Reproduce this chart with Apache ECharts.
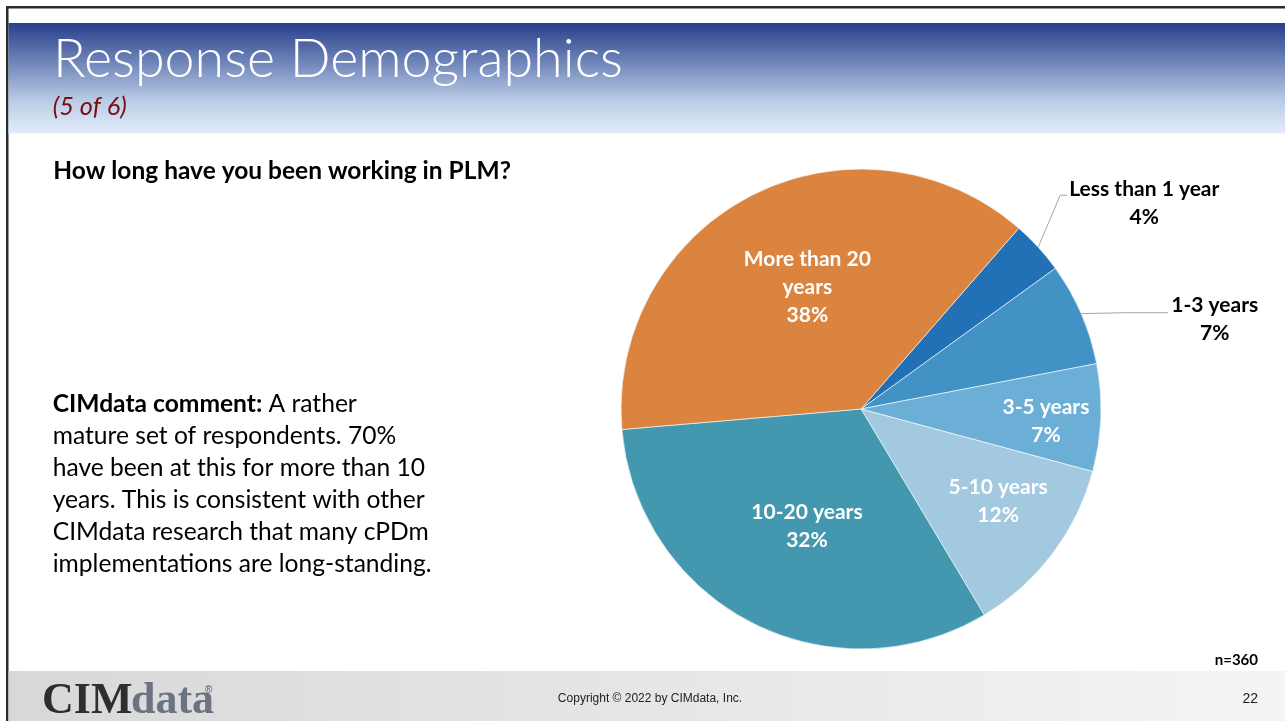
<!DOCTYPE html>
<html>
<head>
<meta charset="utf-8">
<script src="https://cdn.jsdelivr.net/npm/echarts@6/dist/echarts.min.js"></script>
<style>
html,body{margin:0;padding:0;background:#fff;}
#chart{width:1285px;height:721px;}
</style>
</head>
<body>
<div id="chart"></div>
<script>
// ---- data (n = 360) ----
const categories = ['Less than 1 year', '1-3 years', '3-5 years', '5-10 years', '10-20 years', 'More than 20 years'];
const counts = [13, 25, 26, 44, 116, 136];
const sliceColors = ['#2271B6', '#4392C6', '#6BAED6', '#A3C9E1', '#4398B0', '#DA843F'];
const titleText = 'Response Demographics';
const subtitleText = '(5 of 6)';
const questionText = 'How long have you been working in PLM?';
const commentLead = 'CIMdata comment:';
const commentLines = [
  'A rather',
  'mature set of respondents. 70%',
  'have been at this for more than 10',
  'years. This is consistent with other',
  'CIMdata research that many cPDm',
  'implementations are long-standing.'
];
const sampleText = 'n=360';
const copyrightText = 'Copyright \u00A9 2022 by CIMdata, Inc.';
const pageNumber = '22';

// ---- style ----
const FONT = 'Lato, "Open Sans", sans-serif';
const outsideIdx = [0, 1];
// label-line bends and text anchor, relative to the slice edge point given by the library
const outsideLayout = {
  0: { line: [[22, -52], [29, -52]], text: [31, -44] },
  1: { line: [[44, -1], [87, -1]], text: [90, 6] }
};
const insideShift = { 2: [62, 8], 3: [39, 18], 4: [2, 8], 5: [2, -12] };
const nameBreaks = { 'More than 20 years': 'More than 20\nyears' };
const LABEL_SIZE = 21;

const chart = echarts.init(document.getElementById('chart'), null, { renderer: 'canvas' });

const seriesData = categories.map((name, i) => {
  const item = { name, value: counts[i], itemStyle: { color: sliceColors[i] } };
  if (outsideIdx.includes(i)) {
    item.label = {
      position: 'outside',
      color: '#000',
      formatter: '{c|{b}}\n{c|{d}%}',
      rich: { c: { align: 'center', fontFamily: FONT, fontWeight: 'bold', fontSize: LABEL_SIZE, color: '#000', lineHeight: 28 } }
    };
    item.labelLine = { show: true, length: 20, length2: 10,
      lineStyle: { color: '#A6A6A6', width: 1 } };
  }
  return item;
});

// text placed by baseline (Lato: middle of em box sits 0.387em above the baseline)
function textAt(x, baseline, size, text, font, fill, extra) {
  return Object.assign({ type: 'text', x: x, y: baseline - 0.387 * size, z: 2,
    style: Object.assign({ text: text, fill: fill, font: font, verticalAlign: 'middle' }, extra && extra.style) },
    extra && extra.el);
}

const commentGraphics = commentLines.map((line, k) => {
  if (k === 0) {
    return textAt(52.7, 413.3, 24.6, '', '', '#000', { style: {
      text: '{b|' + commentLead + '}{n| ' + line + '}',
      rich: {
        b: { fontFamily: FONT, fontWeight: 'bold', fontSize: 24.6, fill: '#000' },
        n: { fontFamily: FONT, fontSize: 24.6, fill: '#000' }
      } } });
  }
  return textAt(52.7, 413.3 + 32 * k, 24.6, line, '24.6px ' + FONT, '#000');
});

chart.setOption({
  animation: false,
  backgroundColor: '#ffffff',
  graphic: [
    // slide frame lines
    { type: 'rect', shape: { x: 6, y: 6, width: 1279, height: 2.5 }, style: { fill: '#2b2b2b' }, z: 1 },
    { type: 'rect', shape: { x: 6, y: 6, width: 2.5, height: 715 }, style: { fill: '#2b2b2b' }, z: 1 },
    // header band
    { type: 'rect', shape: { x: 8.5, y: 23, width: 1277, height: 110.5 },
      style: { fill: new echarts.graphic.LinearGradient(0, 0, 0, 1, [
        { offset: 0, color: '#283F8C' }, { offset: 0.35, color: '#6E84B8' },
        { offset: 0.7, color: '#B9CBE6' }, { offset: 1, color: '#E2EDF9' }]) }, z: 1 },
    textAt(53, 80.7, 53.8, titleText, '300 53.8px ' + FONT, '#ffffff'),
    textAt(52.7, 117, 25.3, subtitleText, 'italic 25.3px ' + FONT, '#7B0E0E'),
    // question
    textAt(53.3, 180.7, 24.5, questionText, 'bold 24.5px ' + FONT, '#000'),
    // comment
    ...commentGraphics,
    // footer
    { type: 'rect', shape: { x: 8.5, y: 671, width: 1277, height: 50 },
      style: { fill: new echarts.graphic.LinearGradient(0, 0, 1, 0, [
        { offset: 0, color: '#D8D8D8' }, { offset: 1, color: '#F4F4F4' }]) }, z: 1 },
    { type: 'text', x: 42, y: 680, z: 2,
      style: { text: 'CIM', fill: '#2E2E2E', font: 'bold 44px "Liberation Serif", serif' } },
    { type: 'text', x: 131, y: 680, z: 2,
      style: { text: 'data', fill: '#6C7482', font: 'bold 44px "Liberation Serif", serif' } },
    { type: 'text', x: 205, y: 685, z: 2,
      style: { text: '\u00AE', fill: '#555', font: '10px "Liberation Sans", sans-serif' } },
    { type: 'text', x: 650, y: 699, z: 2,
      style: { text: copyrightText, fill: '#222', font: '12px "Liberation Sans", Arial, sans-serif', align: 'center', verticalAlign: 'middle' } },
    { type: 'text', x: 1258, y: 699, z: 2,
      style: { text: pageNumber, fill: '#222', font: '14px "Liberation Sans", Arial, sans-serif', align: 'right', verticalAlign: 'middle' } },
    { type: 'text', x: 1258, y: 660, z: 2,
      style: { text: sampleText, fill: '#000', font: 'bold 15px ' + FONT, align: 'right', verticalAlign: 'middle' } }
  ],
  series: [{
    type: 'pie',
    center: [861, 409],
    radius: 240,
    startAngle: 48.9,
    clockwise: true,
    percentPrecision: 0,
    avoidLabelOverlap: false,
    data: seriesData,
    itemStyle: { borderColor: '#ffffff', borderWidth: 0.6 },
    label: {
      show: true,
      position: 'inside',
      formatter: p => (nameBreaks[p.name] || p.name) + '\n' + p.percent + '%',
      fontFamily: FONT,
      fontWeight: 'bold',
      fontSize: LABEL_SIZE,
      lineHeight: 28,
      color: '#ffffff'
    },
    labelLine: { show: false },
    labelLayout: function (p) {
      const o = outsideLayout[p.dataIndex];
      if (o && p.labelLinePoints) {
        const p0 = p.labelLinePoints[0];
        return {
          x: p0[0] + o.text[0],
          y: p0[1] + o.text[1],
          labelLinePoints: [
            [p0[0], p0[1]],
            [p0[0] + o.line[0][0], p0[1] + o.line[0][1]],
            [p0[0] + o.line[1][0], p0[1] + o.line[1][1]]
          ]
        };
      }
      const s = insideShift[p.dataIndex];
      return s ? { dx: s[0], dy: s[1] } : {};
    },
    emphasis: { disabled: true }
  }]
});
</script>
</body>
</html>
